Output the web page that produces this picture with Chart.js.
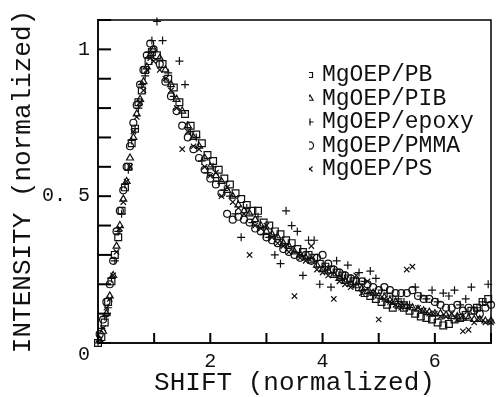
<!DOCTYPE html>
<html>
<head>
<meta charset="utf-8">
<script src="https://cdn.jsdelivr.net/npm/chart.js@4/dist/chart.umd.min.js"></script>
<style>
  html, body { margin: 0; padding: 0; background: #fff; }
  #wrap { width: 498px; height: 397px; }
</style>
</head>
<body>
<div id="wrap"><canvas id="myChart"></canvas></div>
<script>
// sample grids (normalized shift)
var shiftA = [0, 0.06, 0.12, 0.18, 0.24, 0.3, 0.36, 0.42, 0.48, 0.54, 0.6, 0.66, 0.72, 0.78, 0.84, 0.9, 0.96,
  1.05, 1.15, 1.25, 1.35, 1.45, 1.55, 1.65, 1.75, 1.85, 1.95,
  2.05, 2.15, 2.25, 2.35, 2.45, 2.55, 2.65, 2.75, 2.85, 2.95,
  3.05, 3.15, 3.25, 3.35, 3.45, 3.55, 3.65, 3.75, 3.85, 3.95,
  4.05, 4.15, 4.25, 4.35, 4.45, 4.55, 4.65, 4.75, 4.85, 4.95,
  5.05, 5.15, 5.25, 5.35, 5.45, 5.55, 5.65, 5.75, 5.85, 5.95,
  6.05, 6.15, 6.25, 6.35, 6.45, 6.55, 6.65, 6.75, 6.85, 6.95]
var shiftB = [0.03, 0.09, 0.15, 0.21, 0.27, 0.33, 0.39, 0.45, 0.51, 0.57, 0.63, 0.69, 0.75, 0.81, 0.87, 0.93, 0.99,
  1.1, 1.2, 1.3, 1.4, 1.5, 1.6, 1.7, 1.8, 1.9, 2.0,
  2.1, 2.2, 2.3, 2.4, 2.5, 2.6, 2.7, 2.8, 2.9, 3.0,
  3.1, 3.2, 3.3, 3.4, 3.5, 3.6, 3.7, 3.8, 3.9, 4.0,
  4.1, 4.2, 4.3, 4.4, 4.5, 4.6, 4.7, 4.8, 4.9, 5.0,
  5.1, 5.2, 5.3, 5.4, 5.5, 5.6, 5.7, 5.8, 5.9, 6.0,
  6.1, 6.2, 6.3, 6.4, 6.5, 6.6, 6.7, 6.8, 6.9, 7.0]

// intensities (normalized), one array per sample
var int_PB = [0, 0.02, 0.07, 0.14, 0.21, 0.30, 0.36, 0.45, 0.53, 0.60, 0.68, 0.73, 0.82, 0.86, 0.93, 0.96, 0.99,
  0.98, 0.95, 0.90, 0.87, 0.82, 0.78, 0.74, 0.71, 0.68, 0.64,
  0.62, 0.59, 0.56, 0.54, 0.51, 0.49, 0.47, 0.45, 0.45, 0.41,
  0.40, 0.38, 0.37, 0.35, 0.34, 0.32, 0.31, 0.30, 0.29, 0.27,
  0.26, 0.25, 0.24, 0.23, 0.22, 0.21, 0.19, 0.17, 0.16, 0.15,
  0.14, 0.13, 0.12, 0.13, 0.12, 0.11, 0.10, 0.09, 0.085, 0.08,
  0.07, 0.06, 0.065, 0.08, 0.085, 0.095, 0.11, 0.12, 0.14, 0.15]
var int_PIB = [0.01, 0.04, 0.10, 0.16, 0.23, 0.33, 0.40, 0.49, 0.55, 0.63, 0.70, 0.78, 0.83, 0.89, 0.94, 0.98, 1.0,
  0.97, 0.93, 0.88, 0.83, 0.79, 0.74, 0.70, 0.67, 0.63, 0.60,
  0.57, 0.55, 0.52, 0.50, 0.47, 0.45, 0.44, 0.42, 0.40, 0.38,
  0.37, 0.36, 0.34, 0.33, 0.31, 0.30, 0.29, 0.28, 0.265, 0.25,
  0.245, 0.23, 0.22, 0.21, 0.20, 0.195, 0.185, 0.175, 0.17, 0.16,
  0.155, 0.145, 0.14, 0.13, 0.125, 0.12, 0.115, 0.11, 0.105, 0.10,
  0.10, 0.095, 0.09, 0.09, 0.085, 0.085, 0.08, 0.08, 0.075, 0.075]
var int_epoxy = [0, 0.05, 0.09, 0.12, 0.22, 0.28, 0.38, 0.44, 0.54, 0.59, 0.69, 0.73, 0.80, 0.88, 0.91, 0.99, 1.03,
  1.095, 1.03, 0.92, 0.84, 0.96, 0.88, 0.72, 0.70, 0.62, 0.58,
  0.60, 0.55, 0.52, 0.50, 0.44, 0.36, 0.46, 0.41, 0.43, 0.37,
  0.36, 0.30, 0.27, 0.45, 0.40, 0.38, 0.23, 0.35, 0.35, 0.20,
  0.26, 0.19, 0.28, 0.22, 0.265, 0.20, 0.24, 0.21, 0.245, 0.22,
  0.18, 0.17, 0.16, 0.15, 0.14, 0.13, 0.19, 0.16, 0.15, 0.18,
  0.14, 0.17, 0.16, 0.18, 0.13, 0.15, 0.19, 0.12, 0.14, 0.20]
var int_PMMA = [0.03, 0.08, 0.14, 0.20, 0.28, 0.38, 0.45, 0.52, 0.60, 0.67, 0.75, 0.81, 0.88, 0.93, 0.98, 1.02, 1.0,
  0.95, 0.89, 0.84, 0.79, 0.74, 0.70, 0.66, 0.63, 0.59, 0.56,
  0.54, 0.51, 0.44, 0.42, 0.43, 0.42, 0.41, 0.39, 0.38, 0.36,
  0.35, 0.34, 0.32, 0.31, 0.30, 0.29, 0.30, 0.28, 0.29, 0.30,
  0.27, 0.25, 0.24, 0.23, 0.22, 0.21, 0.21, 0.20, 0.19, 0.18,
  0.19, 0.18, 0.17, 0.17, 0.17, 0.18, 0.16, 0.15, 0.15, 0.14,
  0.13, 0.12, 0.12, 0.13, 0.11, 0.12, 0.11, 0.10, 0.12, 0.13]
var int_PS = [0.01, 0.05, 0.12, 0.15, 0.23, 0.31, 0.39, 0.48, 0.55, 0.60, 0.72, 0.77, 0.82, 0.86, 0.93, 0.97, 0.96,
  0.93, 0.90, 0.86, 0.80, 0.66, 0.72, 0.67, 0.66, 0.60, 0.57,
  0.58, 0.50, 0.53, 0.48, 0.46, 0.44, 0.30, 0.40, 0.39, 0.40,
  0.36, 0.34, 0.33, 0.31, 0.16, 0.29, 0.28, 0.33, 0.25, 0.24,
  0.23, 0.15, 0.21, 0.20, 0.19, 0.23, 0.17, 0.21, 0.17, 0.08,
  0.15, 0.14, 0.13, 0.12, 0.25, 0.26, 0.12, 0.11, 0.10, 0.10,
  0.09, 0.09, 0.10, 0.08, 0.04, 0.045, 0.07, 0.08, 0.07, 0.07]

var seriesNames = ['MgOEP/PB', 'MgOEP/PIB', 'MgOEP/epoxy', 'MgOEP/PMMA', 'MgOEP/PS']

var xTickLabels = [2, 4, 6]
var yTickLabels = [0, 0.5, 1]

var myChart

function pares(xs, ys) {
    return xs.map(function (x, i) { return { x: x, y: ys[i] } })
}

function serie(label, xs, ys, style, radius) {
    return {
        label: label,
        data: pares(xs, ys),
        pointStyle: style,
        pointRadius: radius,
        pointBorderWidth: 1.2,
        borderColor: '#111',
        backgroundColor: 'rgba(0,0,0,0)',
        showLine: false,
        clip: false
    }
}

// legend sits inside the plot, upper right
var legendInside = {
    id: 'legendInside',
    afterLayout: function (chart) {
        var lg = chart.legend
        var a = chart.chartArea
        lg.left = a.left + 211
        lg.right = lg.left + 180
        lg.top = a.top + 43
        lg.bottom = lg.top + 200
    }
}

// top and right edges of the frame, plus inward tick marks at the scale ticks
var frame = {
    id: 'frame',
    afterDraw: function (chart) {
        var ctx = chart.ctx, a = chart.chartArea
        var sx = chart.scales.x, sy = chart.scales.y
        ctx.save()
        ctx.strokeStyle = '#000'
        ctx.lineWidth = 1.5
        ctx.beginPath()
        ctx.moveTo(a.left, a.top)
        ctx.lineTo(a.right, a.top)
        ctx.lineTo(a.right, a.bottom)
        ctx.stroke()
        ctx.lineWidth = 2
        for (var i = 0; i < sy.ticks.length; i++) {
            var py = sy.getPixelForValue(sy.ticks[i].value)
            ctx.beginPath()
            ctx.moveTo(a.left, py)
            ctx.lineTo(a.left + 13, py)
            ctx.stroke()
        }
        for (var j = 0; j < sx.ticks.length; j++) {
            var px = sx.getPixelForValue(sx.ticks[j].value)
            ctx.beginPath()
            ctx.moveTo(px, a.bottom)
            ctx.lineTo(px, a.bottom - 10)
            ctx.stroke()
        }
        ctx.restore()
    }
}

InicializarGrafica();
function InicializarGrafica() {
    var ctx = document.getElementById('myChart')
    var mono = 'Liberation Mono'
    var chartData = {
        type: 'scatter',
        data: {
            datasets: [
                serie(seriesNames[0], shiftA, int_PB, 'rect', 4.8),
                serie(seriesNames[1], shiftB, int_PIB, 'triangle', 4),
                serie(seriesNames[2], shiftA, int_epoxy, 'cross', 4),
                serie(seriesNames[3], shiftB, int_PMMA, 'circle', 3.5),
                serie(seriesNames[4], shiftB, int_PS, 'crossRot', 3.8)
            ]
        },
        options: {
            responsive: true,
            maintainAspectRatio: false,
            animation: false,
            layout: { padding: { top: 20, right: 6, left: 0, bottom: 0 } },
            plugins: {
                tooltip: { enabled: false },
                legend: {
                    position: 'chartArea',
                    align: 'start',
                    labels: {
                        usePointStyle: true,
                        boxWidth: 1,
                        boxHeight: 5,
                        padding: 0.5,
                        color: '#111',
                        font: { family: mono, size: 23, lineHeight: 1 }
                    }
                }
            },
            scales: {
                x: {
                    type: 'linear',
                    min: 0,
                    max: 7,
                    afterFit: function (s) { s.height = 54 },
                    border: { display: true, color: '#111', width: 2 },
                    grid: { display: false, drawTicks: false },
                    ticks: {
                        stepSize: 1,
                        autoSkip: false,
                        maxRotation: 0,
                        padding: 7,
                        color: '#111',
                        font: { family: mono, size: 20 },
                        callback: function (v) {
                            return xTickLabels.indexOf(v) >= 0 ? String(v) : ''
                        }
                    },
                    title: {
                        display: true,
                        text: 'SHIFT (normalized)',
                        color: '#111',
                        font: { family: mono, size: 26, lineHeight: 1 },
                        padding: { top: 0, bottom: 1 }
                    }
                },
                y: {
                    type: 'linear',
                    min: 0,
                    max: 1.1,
                    afterFit: function (s) { s.width = 98 },
                    border: { display: true, color: '#111', width: 2 },
                    grid: { display: false, drawTicks: false },
                    ticks: {
                        stepSize: 0.1,
                        autoSkip: false,
                        padding: 8,
                        color: '#111',
                        font: { family: mono, size: 20 },
                        callback: function (v) {
                            if (Math.abs(v - yTickLabels[2]) < 1e-6) return '1'
                            if (Math.abs(v - yTickLabels[1]) < 1e-6) return '0. 5'
                            if (Math.abs(v - yTickLabels[0]) < 1e-6) return ['', '0']
                            return ''
                        }
                    },
                    title: {
                        display: true,
                        text: 'INTENSITY (normalized)',
                        color: '#111',
                        font: { family: mono, size: 26, lineHeight: 1 },
                        padding: { top: 10, bottom: 0 }
                    }
                }
            }
        },
        plugins: [legendInside, frame]
    };
    myChart = new Chart(ctx, chartData);
}
</script>
</body>
</html>
